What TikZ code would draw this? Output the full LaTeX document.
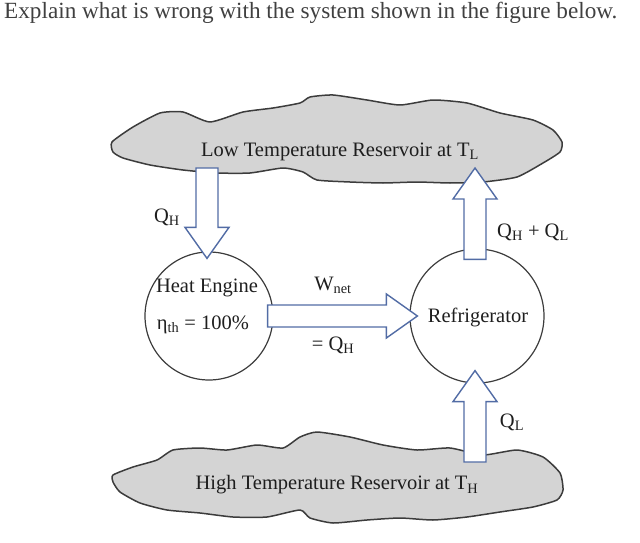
\documentclass[tikz,border=0pt]{standalone}
\usepackage{fontspec}
\setmainfont{Liberation Serif}
\usepackage{xcolor}
\usetikzlibrary{positioning, calc}
\definecolor{ink}{RGB}{30,30,30}
\definecolor{rim}{RGB}{60,60,60}
\definecolor{fog}{RGB}{212,212,212}
\definecolor{flow}{RGB}{82,108,165}
\newcommand{\Qs}[1]{Q\textsubscript{#1}}
% block arrow: tail, tip
\newcommand{\fatarrow}[2]{%
  \coordinate (fa-b) at ($(#2)!31pt!(#1)$);
  \draw[blockarrow] ($(#1)!11pt!90:(#2)$) -- ($(fa-b)!11pt!-90:(#1)$)
    -- ($(fa-b)!22pt!-90:(#1)$) -- (#2) -- ($(fa-b)!22pt!90:(#1)$)
    -- ($(fa-b)!11pt!90:(#1)$) -- ($(#1)!11pt!-90:(#2)$) -- cycle;}

\begin{document}
\begin{tikzpicture}[
  x=1pt, y=-1pt,
  node distance=6pt,
  cloud/.style={draw=rim, fill=fog, line width=1.5pt, line join=round},
  unit/.style={draw=rim, circle, line width=1.2pt, inner sep=0pt},
  lbl/.style={text=ink, font=\fontsize{20.5}{24}\selectfont, inner sep=1pt},
  blockarrow/.style={draw=flow, fill=white, line width=1.4pt, line join=miter},
]
\useasboundingbox (0,0) rectangle (640,543);

\node[anchor=west, text=ink!85, inner sep=0pt, font=\fontsize{23.2}{27}\selectfont] (task) at (4,13)
  {Explain what is wrong with the system shown in the figure below.};

% reservoirs
\draw[cloud] plot[smooth cycle, tension=0.35] coordinates {
  (112,142) (133,127) (160,113) (183,112) (210,122) (243,112) (273,108)
  (300,103) (310,97) (333,95) (367,100) (400,105) (433,100) (467,103)
  (500,113) (533,120) (553,130) (562,142) (560,152) (543,163) (517,177)
  (483,182) (450,183) (417,182) (383,183) (350,182) (317,180) (303,172)
  (283,168) (250,173) (217,173) (183,170) (150,165) (123,158) (113,152)};
\node[lbl] (low) at (340,152) {Low Temperature Reservoir at T\textsubscript{L}};

\draw[cloud] plot[smooth cycle, tension=0.35] coordinates {
  (113,475) (133,467) (157,460) (173,450) (200,448) (227,450) (257,445)
  (283,448) (300,437) (317,432) (350,437) (383,445) (417,450) (450,448)
  (483,455) (517,450) (543,457) (560,473) (563,490) (557,500) (533,507)
  (500,512) (467,517) (433,520) (400,518) (367,520) (333,523) (310,518)
  (300,510) (267,517) (233,517) (200,513) (167,510) (140,503) (120,492)
  (113,482)};
\node[lbl] (high) at (337,485) {High Temperature Reservoir at T\textsubscript{H}};

% devices
\node[unit, minimum size=128pt] (engine) at (209,316) {};
\node[unit, minimum size=134pt] (fridge) at (477,316) {};
\node[lbl] (engine-name) at (207,288) {Heat Engine};
\node[lbl] (engine-eff) at (203,325) {η\textsubscript{th} = 100\%};
\node[lbl] (fridge-name) at (478,317) {Refrigerator};

% heat and work flows
\coordinate (qh-out) at (207,168);
\coordinate (qh-in) at ($(engine.north)+(-2,7)$);
\fatarrow{qh-out}{qh-in}
\node[lbl] (qh) at (167,217) {\Qs{H}};

\coordinate (w-out) at ($(engine.east)+(-6,0)$);
\coordinate (w-in) at ($(fridge.west)+(8,0)$);
\fatarrow{w-out}{w-in}
\node[lbl] (w) at (333,285) {W\textsubscript{net}};
\node[lbl] (w-eq) at (333,345) {= \Qs{H}};

\coordinate (rej-out) at ($(fridge.north)+(-2,11)$);
\coordinate (rej-in) at (475,168);
\fatarrow{rej-out}{rej-in}
\node[lbl] (rej) at (533,232) {\Qs{H} + \Qs{L}};

\coordinate (ql-out) at (475,462);
\coordinate (ql-in) at ($(fridge.south)+(-2,-13)$);
\fatarrow{ql-out}{ql-in}
\node[lbl] (ql) at (512,422) {\Qs{L}};
\end{tikzpicture}
\end{document}
